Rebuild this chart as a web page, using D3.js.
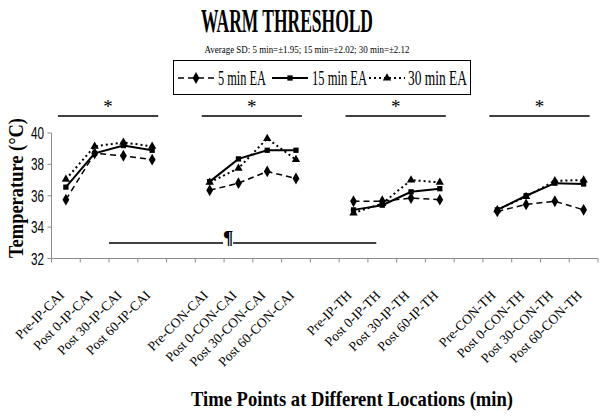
<!DOCTYPE html>
<html>
<head>
<meta charset="utf-8">
<script src="https://cdn.jsdelivr.net/npm/d3@7"></script>
<style>
  body { margin: 0; background: #fff; }
  svg { display: block; }
</style>
</head>
<body>
<div id="chart"></div>
<script>
// warm threshold chart
const categories = [
  'Pre-IP-CAI', 'Post 0-IP-CAI', 'Post 30-IP-CAI', 'Post 60-IP-CAI',
  'Pre-CON-CAI', 'Post 0-CON-CAI', 'Post 30-CON-CAI', 'Post 60-CON-CAI',
  'Pre-IP-TH', 'Post 0-IP-TH', 'Post 30-IP-TH', 'Post 60-IP-TH',
  'Pre-CON-TH', 'Post 0-CON-TH', 'Post 30-CON-TH', 'Post 60-CON-TH'
];
const ea5 = [35.75, 38.7, 38.55, 38.3, 36.35, 36.8, 37.55, 37.1, 35.65, 35.65, 35.85, 35.75, 35.0, 35.45, 35.65, 35.1];
const ea15 = [36.55, 38.7, 39.2, 38.9, 36.9, 38.35, 38.9, 38.9, 35.1, 35.4, 36.25, 36.45, 35.1, 36.0, 36.8, 36.75];
const ea30 = [37.05, 39.15, 39.4, 39.15, 36.85, 37.75, 39.65, 38.3, 34.9, 35.5, 37.0, 36.85, 35.1, 35.95, 36.95, 37.0];
const seriesNames = ['5 min EA', '15 min EA', '30 min EA'];
const yTicks = [32, 34, 36, 38, 40];
const sigGroups = [[0, 3], [4, 7], [8, 11], [12, 15]];

const width = 600, height = 418;
const serif = 'Liberation Serif, Times New Roman, serif';

const svg = d3.select('#chart')
  .append('svg')
  .attr('width', width)
  .attr('height', height);

// band domain with an empty slot between the four groups
const domain = [];
categories.forEach((c, i) => {
  if (i > 0 && i % 4 === 0) domain.push('gap' + i);
  domain.push(c);
});

const x = d3.scaleBand().domain(domain).range([51.5, 598]);
const y = d3.scaleLinear().domain([32, 40]).range([258.5, 133]);
const cx = c => x(c) + x.bandwidth() / 2;

// axes
const axisColor = '#8c8c8c';
svg.append('line')
  .attr('x1', 51.5).attr('x2', 51.5)
  .attr('y1', y(40)).attr('y2', y(32))
  .attr('stroke', axisColor);
svg.append('line')
  .attr('x1', 51.5).attr('x2', 598)
  .attr('y1', y(32)).attr('y2', y(32))
  .attr('stroke', axisColor);

svg.append('g').selectAll('line')
  .data(yTicks)
  .enter().append('line')
  .attr('x1', 47.5).attr('x2', 51.5)
  .attr('y1', d => y(d)).attr('y2', d => y(d))
  .attr('stroke', axisColor);

svg.append('g').selectAll('text')
  .data(yTicks)
  .enter().append('text')
  .attr('x', 44).attr('y', d => y(d) + 6)
  .attr('text-anchor', 'end')
  .attr('font-family', 'Liberation Sans, Arial, sans-serif')
  .attr('font-size', 17)
  .attr('textLength', 13)
  .attr('lengthAdjust', 'spacingAndGlyphs')
  .text(d => d);

svg.append('g').selectAll('line')
  .data(domain.concat(['end']))
  .enter().append('line')
  .attr('x1', d => d === 'end' ? 598 : x(d))
  .attr('x2', d => d === 'end' ? 598 : x(d))
  .attr('y1', y(32)).attr('y2', y(32) + 4)
  .attr('stroke', axisColor);

svg.append('g').selectAll('text')
  .data(categories)
  .enter().append('text')
  .attr('transform', d => `translate(${cx(d) - 1},${296}) rotate(-45)`)
  .attr('text-anchor', 'end')
  .attr('font-family', serif)
  .attr('font-size', 13.5)
  .attr('fill', '#000')
  .text(d => d);

// titles
svg.append('text')
  .attr('x', 287).attr('y', 32)
  .attr('text-anchor', 'middle')
  .attr('font-family', serif)
  .attr('font-weight', 'bold')
  .attr('font-size', 33)
  .attr('textLength', 172)
  .attr('lengthAdjust', 'spacingAndGlyphs')
  .text('WARM THRESHOLD');

svg.append('text')
  .attr('x', 307).attr('y', 53)
  .attr('text-anchor', 'middle')
  .attr('font-family', serif)
  .attr('font-size', 10)
  .attr('textLength', 205)
  .attr('lengthAdjust', 'spacingAndGlyphs')
  .text('Average SD: 5 min=±1.95; 15 min=±2.02; 30 min=±2.12');

svg.append('text')
  .attr('transform', 'translate(23,188) rotate(-90)')
  .attr('text-anchor', 'middle')
  .attr('font-family', serif)
  .attr('font-weight', 'bold')
  .attr('font-size', 21)
  .attr('textLength', 140)
  .attr('lengthAdjust', 'spacingAndGlyphs')
  .text('Temperature (°C)');

svg.append('text')
  .attr('x', 352).attr('y', 406)
  .attr('text-anchor', 'middle')
  .attr('font-family', serif)
  .attr('font-weight', 'bold')
  .attr('font-size', 22)
  .attr('textLength', 322)
  .attr('lengthAdjust', 'spacingAndGlyphs')
  .text('Time Points at Different Locations (min)');

// significance marks
sigGroups.forEach(g => {
  const x1 = cx(categories[g[0]]) - 8;
  const x2 = cx(categories[g[1]]) + 6;
  svg.append('line')
    .attr('x1', x1).attr('x2', x2)
    .attr('y1', 116).attr('y2', 116)
    .attr('stroke', '#000').attr('stroke-width', 1.3);
  svg.append('text')
    .attr('x', (x1 + x2) / 2).attr('y', 113)
    .attr('text-anchor', 'middle')
    .attr('font-family', serif)
    .attr('font-size', 19)
    .attr('fill', '#000')
    .text('*');
});

const pStart = x(categories[2]);
const pEnd = cx(categories[9]) - 6;
const pMark = x(categories[5]) + 4;
svg.append('line')
  .attr('x1', pStart).attr('x2', pMark - 5)
  .attr('y1', 243).attr('y2', 243)
  .attr('stroke', '#000').attr('stroke-width', 1.3);
svg.append('line')
  .attr('x1', pMark + 5).attr('x2', pEnd)
  .attr('y1', 243).attr('y2', 243)
  .attr('stroke', '#000').attr('stroke-width', 1.3);
svg.append('text')
  .attr('x', pMark).attr('y', 244)
  .attr('text-anchor', 'middle')
  .attr('font-family', serif)
  .attr('font-weight', 'bold')
  .attr('font-size', 19)
  .attr('fill', '#000')
  .text('¶');

// series
const series = [
  {name: seriesNames[0], values: ea5, dash: '6,4', width: 1.5, symbol: d3.symbolDiamond, size: 40},
  {name: seriesNames[1], values: ea15, dash: null, width: 2, symbol: d3.symbolSquare, size: 28},
  {name: seriesNames[2], values: ea30, dash: '2,3', width: 2, symbol: d3.symbolTriangle, size: 30}
];

const line = d3.line()
  .x(d => cx(d.c))
  .y(d => y(d.v));

series.forEach(s => {
  const pts = s.values.map((v, i) => ({c: categories[i], v}));
  for (let g = 0; g < 4; g++) {
    svg.append('path')
      .datum(pts.slice(g * 4, g * 4 + 4))
      .attr('d', line)
      .attr('fill', 'none')
      .attr('stroke', '#000')
      .attr('stroke-width', s.width)
      .attr('stroke-dasharray', s.dash);
  }
  svg.append('g').selectAll('path')
    .data(pts)
    .enter().append('path')
    .attr('transform', d => `translate(${cx(d.c)},${y(d.v)})`)
    .attr('d', d3.symbol().type(s.symbol).size(s.size))
    .attr('fill', '#000');
});

// legend
const legend = svg.append('g');
legend.append('rect')
  .attr('x', 173.5).attr('y', 60.5)
  .attr('width', 297).attr('height', 34)
  .attr('fill', 'none')
  .attr('stroke', '#000');

const legendPos = [
  {x1: 178, x2: 214, tx: 218, tw: 48},
  {x1: 272, x2: 308, tx: 312, tw: 55},
  {x1: 369, x2: 405, tx: 408, tw: 59}
];
series.forEach((s, i) => {
  const p = legendPos[i];
  legend.append('line')
    .attr('x1', p.x1).attr('x2', p.x2)
    .attr('y1', 78).attr('y2', 78)
    .attr('stroke', '#000')
    .attr('stroke-width', s.width)
    .attr('stroke-dasharray', s.dash);
  legend.append('path')
    .attr('transform', `translate(${(p.x1 + p.x2) / 2},78)`)
    .attr('d', d3.symbol().type(s.symbol).size(s.size))
    .attr('fill', '#000');
  legend.append('text')
    .attr('x', p.tx).attr('y', 85)
    .attr('font-family', serif)
    .attr('font-size', 20)
    .attr('textLength', p.tw)
    .attr('lengthAdjust', 'spacingAndGlyphs')
    .text(s.name);
});
</script>
</body>
</html>
